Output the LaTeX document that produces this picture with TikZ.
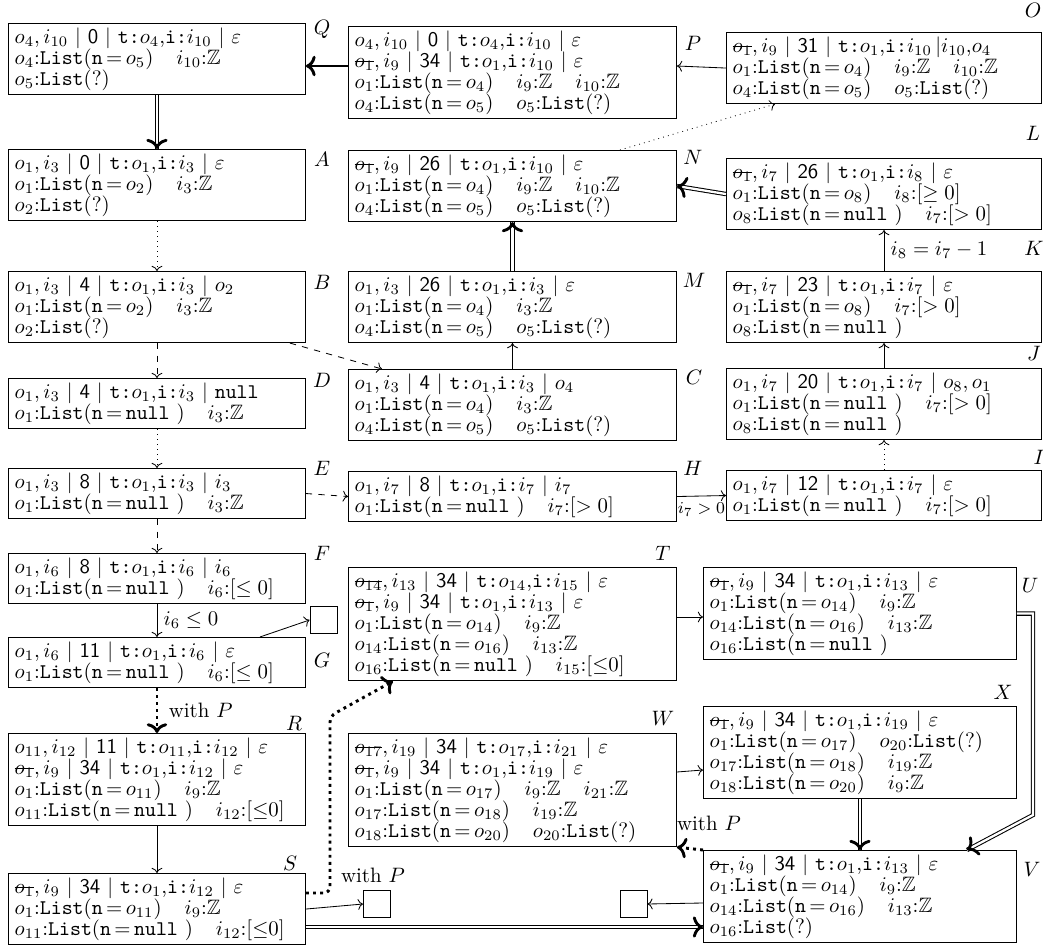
\documentclass[tikz,border=0pt]{standalone}
\usepackage{amsmath,amssymb}
\usepackage{tikz}
\usetikzlibrary{arrows.meta, calc, decorations.markings}

\setlength{\lineskiplimit}{-4pt}
\newsavebox{\xobox}
\newcommand{\xo}[1]{\leavevmode\sbox{\xobox}{$o_{#1}$}\rlap{\usebox{\xobox}}\rule[0.6ex]{\wd\xobox}{0.4pt}}
\newcommand{\Lst}[1]{\texttt{List}$(\mathtt{n}\,{=}\,#1)$}
\newcommand{\Lnull}{\texttt{List}$(\mathtt{n}\,{=}\,\mathtt{null}\ )$}
\newcommand{\Lq}{\texttt{List}(?)}
\newcommand{\Zz}{$\mathbb{Z}$}
\newcommand{\pc}[1]{\textsf{#1}}
\newcommand{\tpos}[2]{\texttt{t:}$#1$,\texttt{i:}$#2$}
\newcommand{\sepbar}{\ $|$\ }
\newcommand{\colgap}{\hspace{11pt}}

\begin{document}
\begin{tikzpicture}[
  x=0.48pt, y=-0.48pt,
  cfg/.style={draw, rectangle, anchor=north west, align=left,
              inner xsep=3pt, inner ysep=2pt,
              font=\fontsize{10}{10.1}\selectfont},
  colA/.style={cfg, text width=136.6pt},
  colB/.style={cfg, text width=151.5pt},
  colC/.style={cfg, text width=145.3pt},
  colD/.style={cfg, text width=144.3pt},
  sink/.style={draw, rectangle, minimum size=13pt, inner sep=0pt},
  nlab/.style={inner sep=0pt},
  elab/.style={inner sep=3pt},
  arr/.style={->},
  darr/.style={->, dashed},
  oarr/.style={->, dotted},
  dbl/.style={double, line width=0.5pt, double distance=1.1pt,
              postaction={decorate, decoration={markings,
                mark=at position 1 with {\pgfsetinnerlinewidth{0pt}%
                  \arrow[line width=1.2pt, scale=1.15]{To}}}}},
  heavy/.style={line width=1.4pt, -{To}},
  withp/.style={line width=1.4pt, dotted, -{To}}
]
\useasboundingbox (0,0) rectangle (1043,952);

% ── Left column ──────────────────────────────────────────────
\node[colA] (Q) at (8,23)
  {$o_4, i_{10}$\sepbar\pc{0}\sepbar\tpos{o_4}{i_{10}}\sepbar$\varepsilon$\\
   $o_4$:\Lst{o_5}\colgap$i_{10}$:\Zz\\
   $o_5$:\Lq};
\node[colA] (A) at (8,149)
  {$o_1, i_3$\sepbar\pc{0}\sepbar\tpos{o_1}{i_3}\sepbar$\varepsilon$\\
   $o_1$:\Lst{o_2}\colgap$i_3$:\Zz\\
   $o_2$:\Lq};
\node[colA] (B) at (8,271)
  {$o_1, i_3$\sepbar\pc{4}\sepbar\tpos{o_1}{i_3}\sepbar$o_2$\\
   $o_1$:\Lst{o_2}\colgap$i_3$:\Zz\\
   $o_2$:\Lq};
\node[colA] (D) at (8,378)
  {$o_1, i_3$\sepbar\pc{4}\sepbar\tpos{o_1}{i_3}\sepbar\texttt{null}\\
   $o_1$:\Lnull\colgap$i_3$:\Zz};
\node[colA] (E) at (8,468)
  {$o_1, i_3$\sepbar\pc{8}\sepbar\tpos{o_1}{i_3}\sepbar$i_3$\\
   $o_1$:\Lnull\colgap$i_3$:\Zz};
\node[colA] (F) at (8,553)
  {$o_1, i_6$\sepbar\pc{8}\sepbar\tpos{o_1}{i_6}\sepbar$i_6$\\
   $o_1$:\Lnull\colgap$i_6$:$[\leq 0]$};
\node[colA] (G) at (8,637)
  {$o_1, i_6$\sepbar\pc{11}\sepbar\tpos{o_1}{i_6}\sepbar$\varepsilon$\\
   $o_1$:\Lnull\colgap$i_6$:$[\leq 0]$};
\node[colA] (R) at (8,733)
  {$o_{11}, i_{12}$\sepbar\pc{11}\sepbar\tpos{o_{11}}{i_{12}}\sepbar$\varepsilon$\\
   \xo{1}$, i_9$\sepbar\pc{34}\sepbar\tpos{o_1}{i_{12}}\sepbar$\varepsilon$\\
   $o_1$:\Lst{o_{11}}\colgap$i_9$:\Zz\\
   $o_{11}$:\Lnull\colgap$i_{12}$:$[{\leq}0]$};
\node[colA] (S) at (8,873)
  {\xo{1}$, i_9$\sepbar\pc{34}\sepbar\tpos{o_1}{i_{12}}\sepbar$\varepsilon$\\
   $o_1$:\Lst{o_{11}}\colgap$i_9$:\Zz\\
   $o_{11}$:\Lnull\colgap$i_{12}$:$[{\leq}0]$};

% ── Middle column ────────────────────────────────────────────
\node[colB] (P) at (348,26)
  {$o_4, i_{10}$\sepbar\pc{0}\sepbar\tpos{o_4}{i_{10}}\sepbar$\varepsilon$\\
   \xo{1}$, i_9$\sepbar\pc{34}\sepbar\tpos{o_1}{i_{10}}\sepbar$\varepsilon$\\
   $o_1$:\Lst{o_4}\colgap$i_9$:\Zz\colgap$i_{10}$:\Zz\\
   $o_4$:\Lst{o_5}\colgap$o_5$:\Lq};
\node[colB] (N) at (348,150)
  {\xo{1}$, i_9$\sepbar\pc{26}\sepbar\tpos{o_1}{i_{10}}\sepbar$\varepsilon$\\
   $o_1$:\Lst{o_4}\colgap$i_9$:\Zz\colgap$i_{10}$:\Zz\\
   $o_4$:\Lst{o_5}\colgap$o_5$:\Lq};
\node[colB] (M) at (348,271)
  {$o_1, i_3$\sepbar\pc{26}\sepbar\tpos{o_1}{i_3}\sepbar$\varepsilon$\\
   $o_1$:\Lst{o_4}\colgap$i_3$:\Zz\\
   $o_4$:\Lst{o_5}\colgap$o_5$:\Lq};
\node[colB] (C) at (348,369)
  {$o_1, i_3$\sepbar\pc{4}\sepbar\tpos{o_1}{i_3}\sepbar$o_4$\\
   $o_1$:\Lst{o_4}\colgap$i_3$:\Zz\\
   $o_4$:\Lst{o_5}\colgap$o_5$:\Lq};
\node[colB] (H) at (348,471)
  {$o_1, i_7$\sepbar\pc{8}\sepbar\tpos{o_1}{i_7}\sepbar$i_7$\\
   $o_1$:\Lnull\colgap$i_7$:$[>0]$};
\node[colB] (T) at (348,567)
  {\xo{14}$, i_{13}$\sepbar\pc{34}\sepbar\tpos{o_{14}}{i_{15}}\sepbar$\varepsilon$\\
   \xo{1}$, i_9$\sepbar\pc{34}\sepbar\tpos{o_1}{i_{13}}\sepbar$\varepsilon$\\
   $o_1$:\Lst{o_{14}}\colgap$i_9$:\Zz\\
   $o_{14}$:\Lst{o_{16}}\colgap$i_{13}$:\Zz\\
   $o_{16}$:\Lnull\colgap$i_{15}$:$[{\leq}0]$};
\node[colB] (W) at (348,733)
  {\xo{17}$, i_{19}$\sepbar\pc{34}\sepbar\tpos{o_{17}}{i_{21}}\sepbar$\varepsilon$\\
   \xo{1}$, i_9$\sepbar\pc{34}\sepbar\tpos{o_1}{i_{19}}\sepbar$\varepsilon$\\
   $o_1$:\Lst{o_{17}}\colgap$i_9$:\Zz\colgap$i_{21}$:\Zz\\
   $o_{17}$:\Lst{o_{18}}\colgap$i_{19}$:\Zz\\
   $o_{18}$:\Lst{o_{20}}\colgap$o_{20}$:\Lq};

% ── Right column ─────────────────────────────────────────────
\node[colC] (O) at (726,32)
  {\xo{1}$, i_9$\sepbar\pc{31}\sepbar\tpos{o_1}{i_{10}}\,$|$$i_{10}$,$o_4$\\
   $o_1$:\Lst{o_4}\colgap$i_9$:\Zz\colgap$i_{10}$:\Zz\\
   $o_4$:\Lst{o_5}\colgap$o_5$:\Lq};
\node[colC] (L) at (726,158)
  {\xo{1}$, i_7$\sepbar\pc{26}\sepbar\tpos{o_1}{i_8}\sepbar$\varepsilon$\\
   $o_1$:\Lst{o_8}\colgap$i_8$:$[\geq 0]$\\
   $o_8$:\Lnull\colgap$i_7$:$[>0]$};
\node[colC] (K) at (726,271)
  {\xo{1}$, i_7$\sepbar\pc{23}\sepbar\tpos{o_1}{i_7}\sepbar$\varepsilon$\\
   $o_1$:\Lst{o_8}\colgap$i_7$:$[>0]$\\
   $o_8$:\Lnull};
\node[colC] (J) at (726,368)
  {$o_1, i_7$\sepbar\pc{20}\sepbar\tpos{o_1}{i_7}\sepbar$o_8, o_1$\\
   $o_1$:\Lnull\colgap$i_7$:$[>0]$\\
   $o_8$:\Lnull};
\node[colC] (I) at (726,470)
  {$o_1, i_7$\sepbar\pc{12}\sepbar\tpos{o_1}{i_7}\sepbar$\varepsilon$\\
   $o_1$:\Lnull\colgap$i_7$:$[>0]$};
\node[colD] (U) at (703,567)
  {\xo{1}$, i_9$\sepbar\pc{34}\sepbar\tpos{o_1}{i_{13}}\sepbar$\varepsilon$\\
   $o_1$:\Lst{o_{14}}\colgap$i_9$:\Zz\\
   $o_{14}$:\Lst{o_{16}}\colgap$i_{13}$:\Zz\\
   $o_{16}$:\Lnull};
\node[colD] (X) at (703,706)
  {\xo{1}$, i_9$\sepbar\pc{34}\sepbar\tpos{o_1}{i_{19}}\sepbar$\varepsilon$\\
   $o_1$:\Lst{o_{17}}\colgap$o_{20}$:\Lq\\
   $o_{17}$:\Lst{o_{18}}\colgap$i_{19}$:\Zz\\
   $o_{18}$:\Lst{o_{20}}\colgap$i_9$:\Zz};
\node[colD] (V) at (703,850)
  {\xo{1}$, i_9$\sepbar\pc{34}\sepbar\tpos{o_1}{i_{13}}\sepbar$\varepsilon$\\
   $o_1$:\Lst{o_{14}}\colgap$i_9$:\Zz\\
   $o_{14}$:\Lst{o_{16}}\colgap$i_{13}$:\Zz\\
   $o_{16}$:\Lq};

% ── Empty end boxes ──────────────────────────────────────────
\node[sink] (sqG) at (323.5,620) {};
\node[sink] (sqS) at (377,904) {};
\node[sink] (sqV) at (633.5,904) {};

% ── Box names ────────────────────────────────────────────────
\node[nlab] (labQ) at (322,29)  {$Q$};
\node[nlab] (labA) at (322,159) {$A$};
\node[nlab] (labB) at (322,282) {$B$};
\node[nlab] (labD) at (322,380) {$D$};
\node[nlab] (labE) at (322,468) {$E$};
\node[nlab] (labF) at (322,553) {$F$};
\node[nlab] (labG) at (322,660) {$G$};
\node[nlab] (labR) at (294,723) {$R$};
\node[nlab] (labS) at (290,863) {$S$};
\node[nlab] (labP) at (693,43)  {$P$};
\node[nlab] (labN) at (693,157) {$N$};
\node[nlab] (labM) at (694,280) {$M$};
\node[nlab] (labC) at (694,377) {$C$};
\node[nlab] (labH) at (693,468) {$H$};
\node[nlab] (labT) at (663,553) {$T$};
\node[nlab] (labW) at (663,718) {$W$};
\node[nlab] (labO) at (1033,10) {$O$};
\node[nlab] (labL) at (1033,133) {$L$};
\node[nlab] (labK) at (1034,248) {$K$};
\node[nlab] (labJ) at (1034,353) {$J$};
\node[nlab] (labI) at (1039,457) {$I$};
\node[nlab] (labU) at (1030,585) {$U$};
\node[nlab] (labX) at (1003,692) {$X$};
\node[nlab] (labV) at (1032,869) {$V$};

% ── Left column connectors ───────────────────────────────────
\draw[dbl]  (Q.south) -- (A.north);
\draw[oarr] (A.south) -- (B.north);
\draw[darr] (B.south) -- (D.north);
\draw[oarr] (D.south) -- (E.north);
\draw[darr] (E.south) -- (F.north);
\draw[arr]  (F.south) -- node[right, elab] {$i_6 \leq 0$} (G.north);
\draw[arr]  (G.north east) ++(-46,0) -- (sqG.west);
\draw[withp] (G.south) -- node[right, elab, xshift=2pt] {with $P$} (R.north);
\draw[arr]  (R.south) -- (S.north);
\draw[arr]  (S.east) -- (sqS.west);
\draw[dbl]  (S.east |- 0,927) -- (V.west |- 0,927);
\coordinate (stbend) at (330,716);
\draw[withp, rounded corners=3pt] (S.east |- 0,893) -| (stbend)
  -- ($(T.south west)+(45,0)$);
\node[elab] (wpS) at (373,875) {with $P$};

% ── Middle and right connectors ──────────────────────────────
\draw[heavy] (P.west |- 0,66) -- (Q.east |- 0,66);
\draw[arr]  (O.west) -- (P.east |- 0,66);
\draw[oarr] ($(N.north east)+(-57,0)$) -- ($(O.south west)+(49,0)$);
\draw[dbl]  (L.west) -- (N.east);
\draw[dbl]  (M.north) -- (N.south);
\draw[arr]  (C.north) -- (M.south);
\draw[darr] ($(B.south east)+(-16,0)$) -- ($(C.north west)+(34,0)$);
\draw[darr] (E.east) -- (H.west);
\draw[arr]  (H.east) -- node[below, elab, font=\footnotesize] {$i_7>0$} (I.west);
\draw[oarr] (I.north) -- (J.south);
\draw[arr]  (J.north) -- (K.south);
\draw[arr]  (K.north) -- node[right, elab] {$i_8 = i_7 - 1$} (L.south);

% ── Bottom right connectors ──────────────────────────────────
\draw[arr]  (T.east |- 0,617) -- (U.west |- 0,617);
\draw[arr]  (W.east |- 0,772) -- (X.west |- 0,770);
\draw[dbl]  (X.south) -- (V.north);
\coordinate (uvbend) at (1033,815);
\draw[dbl]  (U.east) -| (uvbend) -- ($(V.north east)+(-50,0)$);
\draw[withp] (V.north west) -- (W.south east);
\node[elab] (wpV) at (709,823) {with $P$};
\draw[arr]  (V.west |- 0,903) -- (sqV.east);

\end{tikzpicture}
\end{document}
